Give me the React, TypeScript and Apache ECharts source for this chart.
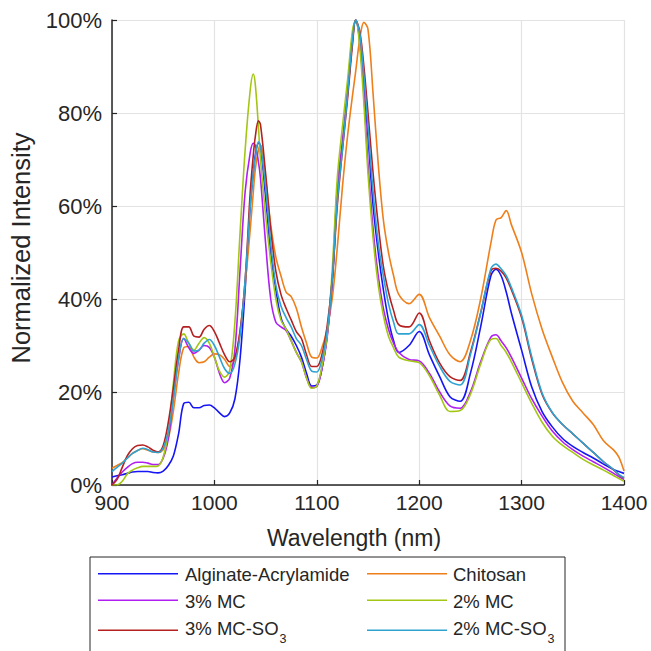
import React, { useEffect, useRef } from "react";
import * as echarts from "echarts";

const wavelengths = [
  900, 905, 910, 915, 920, 925, 930, 935, 940, 945,
  950, 955, 960, 965, 970, 975, 980, 985, 990, 995,
  1000, 1005, 1010, 1015, 1020, 1025, 1030,
  1035, 1038, 1040, 1043, 1045,
  1050, 1055, 1060, 1065, 1070, 1075, 1080, 1085, 1090, 1095,
  1100, 1105, 1110, 1115, 1120, 1125, 1130, 1135, 1138, 1142,
  1146, 1150, 1155, 1160, 1165, 1170, 1175, 1180, 1190, 1200,
  1210, 1220, 1230, 1240, 1250, 1260, 1270, 1275, 1280, 1285,
  1290, 1300, 1310, 1320, 1330, 1340, 1350, 1360, 1370, 1380,
  1390, 1395, 1400,
];

const alginate = [
  1.7, 2.0, 2.2, 2.5, 2.8, 2.9, 2.9, 2.9, 2.7, 2.6,
  3.0, 4.2, 6.3, 11, 17.5, 17.8, 16.6, 16.6, 17.1, 17.2,
  16.6, 15.5, 14.7, 15.5, 18.5, 27, 42,
  60, 67, 71, 73.5, 73,
  62, 50, 42, 36, 33.5, 32, 30, 27.5, 24, 21.3,
  21.5, 25, 32, 43, 62, 73, 84, 96, 100, 96,
  86, 75, 60, 50, 42, 35.5, 31, 28.5, 30, 33,
  28, 23.3, 19, 18, 24, 34, 45, 46.4, 45, 41.5,
  37, 29, 21, 15.8, 12.5, 10, 8.3, 7, 5.8, 4.5,
  3.3, 2.9, 2.5,
];

const chitosan = [
  3.6, 4.2, 4.8, 5.8, 6.8, 7.4, 7.8, 7.5, 7.1, 7.0,
  7.6, 10, 16, 24, 29.5, 29.8, 27.5, 26.3, 26.5, 27.5,
  28.2, 28, 27, 25.5, 27, 33, 43,
  55, 63, 68, 72, 73.1,
  66, 56, 49, 45, 41.5, 40.5, 38, 34, 30.5, 27.5,
  27.3, 29.5, 33.5, 40, 51, 64, 75, 84, 89, 96,
  99.5, 98, 84, 69, 57, 50, 45, 41, 39, 41,
  36, 32, 28, 26.5, 31, 40, 52, 57, 57.5, 59,
  56, 50, 41, 33.5, 27.5, 22, 18, 15.5, 13, 9.5,
  7.5, 6, 3,
];

const mc3 = [
  0, 1.5, 2.8, 3.8, 4.6, 4.9, 4.9, 4.7, 4.4, 4.4,
  5.8, 10, 19, 27, 31.5, 29.5, 28.3, 29, 30, 29.6,
  27.5, 24, 22, 23, 29, 46, 63,
  71.5, 73.5, 73, 69.5, 66,
  52, 40, 35, 34, 33.2, 31, 28.5, 26.5, 23, 21,
  21.2, 25, 31.5, 44, 64, 74, 85, 97, 100, 95,
  84, 69, 55, 45, 38, 33.5, 30.5, 28.5, 27, 26.7,
  24, 20, 17, 16.5, 20, 26.5, 31.8, 32.3, 31, 29.5,
  27.5, 23, 18.5, 14.8, 11.6, 9.3, 7.6, 6.2, 5, 3.8,
  2.5, 1.8, 1.2,
];

const mc2 = [
  0, 0, 0.8, 2.4, 3.2, 3.7, 4, 4, 4, 4.1,
  6, 11.5, 22, 31, 32.5, 30.5, 29, 30.5, 31.7, 30.5,
  27.5, 24.5, 23.2, 24.7, 35, 54, 72,
  85, 88.4, 86, 77, 70,
  58, 48, 40, 35.5, 33.5, 31, 28.5, 26.5, 23, 20.8,
  21.3, 25.5, 32, 46, 66, 77, 87, 98, 100, 94,
  82, 67, 53, 43, 36.5, 32, 29.5, 27.5, 26.7, 26.3,
  23.5, 19.3, 15.8, 16, 19.5, 26, 31.3, 31.5, 30, 28.5,
  26.5, 22, 17.5, 13.5, 10.5, 8.5, 7, 5.5, 4.3, 3.2,
  2, 1.4, 0.8,
];

const mc3so3 = [
  0, 1.2, 3.8, 6.3, 7.8, 8.5, 8.6, 8.2, 7.5, 7.1,
  8.5, 13.5, 21, 29, 34, 34, 32, 31.8, 33.5, 34.3,
  33, 30.5, 28, 26.5, 27.5, 33, 44,
  63, 71, 75, 78.3, 77.5,
  67, 55, 46, 41, 38, 35.5, 33, 31.5, 28, 25.5,
  25.5, 28, 34, 44, 60, 72, 83, 95, 100, 97.5,
  90, 80, 67, 56, 47, 41.5, 37.5, 34.5, 34, 37,
  31, 26.2, 23.3, 22.5, 28.5, 37, 46, 46.6, 46, 44.5,
  42, 36, 27, 19.5, 15.5, 13, 11, 9, 7, 5,
  3.2, 2.2, 1.5,
];

const mc2so3 = [
  2.9, 3.8, 4.7, 5.8, 6.8, 7.4, 7.9, 7.6, 7.1, 7.0,
  8, 11.5, 18.5, 27, 31.5, 30.5, 28.8, 29, 30.5, 31.3,
  30, 27.5, 25, 24, 26, 32, 44,
  60, 67, 70.5, 73.8, 73,
  64, 52, 43, 38.5, 36, 34, 31.5, 30, 27, 24.5,
  24.3, 27, 33, 44, 61, 72, 84, 96, 100, 97,
  88, 77, 63, 52, 45, 39, 35, 32.5, 32.5, 34.5,
  30, 25.5, 22.3, 21.5, 28, 37, 46.5, 47.5, 46.5, 45,
  42.5, 36.5, 27.5, 19.8, 15.6, 13, 11, 9, 7, 5,
  3.3, 2.3, 1.6,
];

const seriesNames = [
  "Alginate-Acrylamide",
  "Chitosan",
  "3% MC",
  "2% MC",
  "3% MC-SO3",
  "2% MC-SO3",
];
const seriesValues = [alginate, chitosan, mc3, mc2, mc3so3, mc2so3];
const seriesColors = ["#1515F5", "#EE7F1A", "#B01EF2", "#A3C615", "#B52020", "#2EA3D2"];

const xTicks = [900, 1000, 1100, 1200, 1300, 1400];
const yTicks = [0, 20, 40, 60, 80, 100];

const FONT = "'Liberation Sans', Arial, Helvetica, sans-serif";
const TEXT = "#262626";

export default function App() {
  const ref = useRef<HTMLDivElement>(null);

  useEffect(() => {
    if (!ref.current) return;
    const chart = echarts.init(ref.current, null, { renderer: "svg" });

    const series = seriesNames.map((name, k) => ({
      name,
      type: "line",
      data: wavelengths.map((w, i) => [w, seriesValues[k][i]]),
      smooth: 0.35,
      symbol: "none",
      lineStyle: { width: 1.6, color: seriesColors[k] },
      itemStyle: { color: seriesColors[k] },
      clip: true,
      z: 2 + k,
    }));

    // legend drawn as graphic: 2 columns x 3 rows
    const colLineX = [98, 367];
    const colTextX = [185, 453];
    const rowLineY = [573.7, 600.3, 630.3];
    const rowTextY = [574, 601, 628];
    const legendGraphics: any[] = [];
    seriesNames.forEach((name, k) => {
      const col = k % 2;
      const row = Math.floor(k / 2);
      legendGraphics.push({
        type: "line",
        shape: { x1: colLineX[col], y1: rowLineY[row], x2: colLineX[col] + 80, y2: rowLineY[row] },
        style: { stroke: seriesColors[k], lineWidth: 1.6 },
        z: 10,
      });
      legendGraphics.push({
        type: "text",
        x: colTextX[col],
        y: rowTextY[row],
        style: {
          text: name.replace("SO3", "SO{sub|3}"),
          fontSize: 18.5,
          lineHeight: 20,
          fontFamily: FONT,
          fill: TEXT,
          textAlign: "left",
          textVerticalAlign: "middle",
          rich: {
            sub: {
              fontSize: 12.5,
              fontFamily: FONT,
              fill: TEXT,
              verticalAlign: "middle",
              padding: [22, 0, 0, 1],
            },
          },
        },
        z: 10,
      });
    });

    chart.setOption({
      animation: false,
      backgroundColor: "#ffffff",
      grid: { left: 112, right: 27, top: 20, bottom: 166, containLabel: false },
      xAxis: {
        type: "value",
        min: xTicks[0],
        max: xTicks[xTicks.length - 1],
        interval: 100,
        axisLine: { show: true, onZero: false, lineStyle: { color: TEXT, width: 1.5 } },
        axisTick: { show: true, inside: true, length: 5, lineStyle: { color: TEXT, width: 1.2 } },
        axisLabel: {
          fontSize: 21,
          color: TEXT,
          fontFamily: FONT,
          margin: 7,
          formatter: (v: number) => String(v),
        },
        splitLine: { show: true, lineStyle: { color: "#e3e3e3", width: 1.2 } },
      },
      yAxis: {
        type: "value",
        min: yTicks[0],
        max: yTicks[yTicks.length - 1],
        interval: 20,
        axisLine: { show: true, onZero: false, lineStyle: { color: TEXT, width: 1.5 } },
        axisTick: { show: true, inside: true, length: 5, lineStyle: { color: TEXT, width: 1.2 } },
        axisLabel: { fontSize: 22, color: TEXT, fontFamily: FONT, margin: 10, formatter: "{value}%" },
        splitLine: { show: true, lineStyle: { color: "#e3e3e3", width: 1.2 } },
      },
      graphic: [
        {
          type: "rect",
          shape: { x: 90, y: 557, width: 475, height: 110 },
          style: { fill: "#ffffff", stroke: TEXT, lineWidth: 1 },
          z: 1,
        },
        {
          type: "text",
          x: 354,
          y: 538,
          style: {
            text: "Wavelength (nm)",
            fontSize: 23,
            fontFamily: FONT,
            fill: TEXT,
            textAlign: "center",
            textVerticalAlign: "middle",
          },
        },
        {
          type: "text",
          x: 21,
          y: 248,
          rotation: Math.PI / 2,
          style: {
            text: "Normalized Intensity",
            fontSize: 25.5,
            fontFamily: FONT,
            fill: TEXT,
            textAlign: "center",
            textVerticalAlign: "middle",
          },
        },
        ...legendGraphics,
      ],
      series,
    });

    return () => chart.dispose();
  }, []);

  return <div ref={ref} style={{ width: 651, height: 651, position: "absolute", left: 0, top: 0 }} />;
}
